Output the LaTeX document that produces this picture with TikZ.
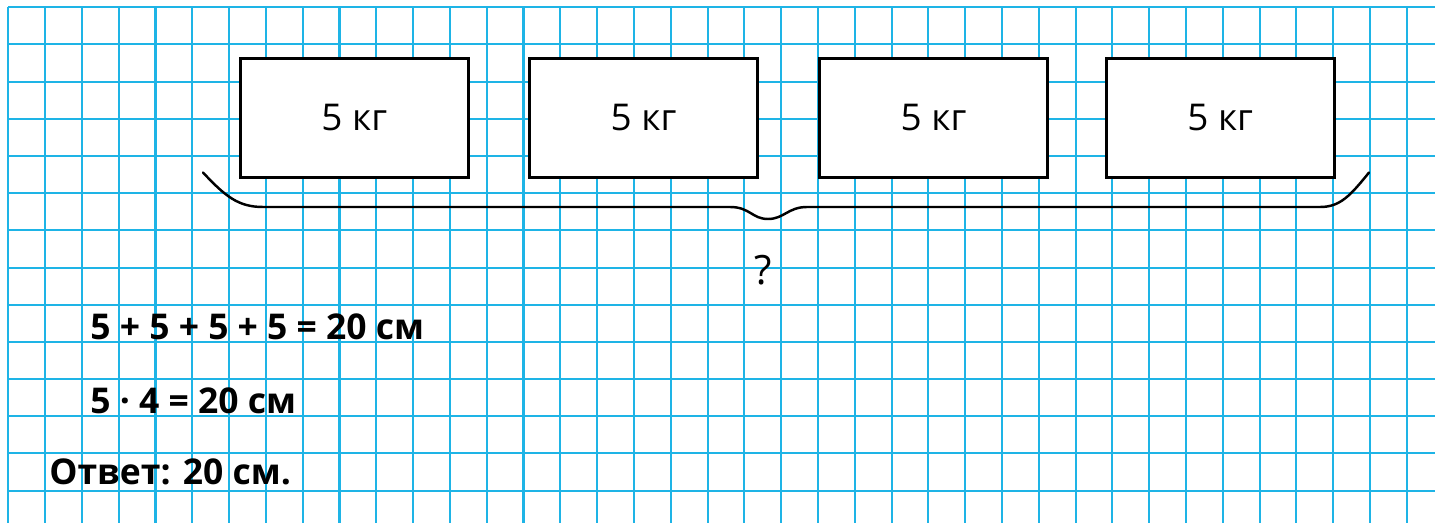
\documentclass[tikz,border=0pt]{standalone}
\usepackage{fontspec}
\setmainfont{Open Sans}
\usepackage{tikz}
\usetikzlibrary{positioning}
\definecolor{gridblue}{RGB}{30,180,230}
\tikzset{
  gridline/.style={gridblue, line width=1.15pt},
  weightbox/.style={draw, line width=1.7pt, fill=white, minimum width=4.56cm, minimum height=2.38cm, inner sep=0pt, font=\fontsize{21}{25}\selectfont},
  bracepath/.style={line width=1.4pt, line cap=round},
  sumtext/.style={font=\fontsize{20.2}{24}\selectfont\bfseries, inner sep=0pt, anchor=base west},
  asktext/.style={font=\fontsize{23}{27}\selectfont, inner sep=0pt}
}
\begin{document}
\begin{tikzpicture}[x=0.02cm, y=-0.02cm]
  \useasboundingbox[fill=white] (0,0) rectangle (1435,523);
  % squared paper
  \foreach \i in {0,...,39} {
    \draw[gridline] ({8.3+36.8*\i},7.3) -- ({8.3+36.8*\i},523);
  }
  \foreach \j in {0,...,14} {
    \draw[gridline] (8.3,{7.3+37.18*\j}) -- (1435,{7.3+37.18*\j});
  }
  \node[weightbox] (w1) at (354.3,117.8) {5 кг};
  \node[weightbox] (w2) at (643.5,117.8) {5 кг};
  \node[weightbox] (w3) at (933.5,117.8) {5 кг};
  \node[weightbox] (w4) at (1220.2,117.8) {5 кг};
  \coordinate (bl) at (203,172.5);
  \coordinate (bm) at (768,219);
  \coordinate (br) at (1369,172.5);
  \draw[bracepath] (bl) .. controls (225,196) and (238,207) .. (263,207) -- (730,207)
    .. controls (750,207) and (752,219) .. (bm)
    .. controls (784,219) and (788,207) .. (807,207) -- (1320,207)
    .. controls (1340,207) and (1350,196) .. (br);
  \node[asktext] (ask) at (763,270) {?};
  \node[sumtext] (sum) at (90,339) {5 + 5 + 5 + 5 = 20 см};
  \node[sumtext] (prod) at (90,413) {5 · 4 = 20 см};
  \node[sumtext] (ans) at (49,484) {Ответ: 20 см.};
\end{tikzpicture}
\end{document}
